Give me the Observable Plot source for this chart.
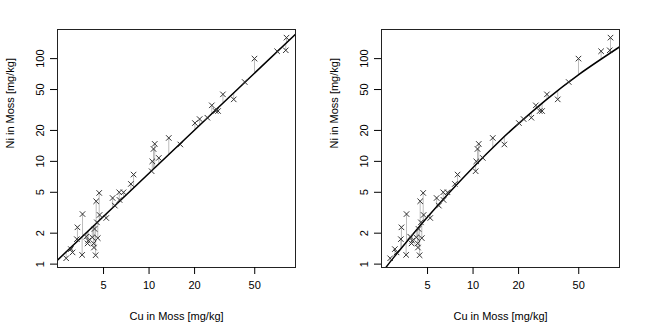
<!DOCTYPE html>
<html>
<head>
<meta charset="utf-8">
<script src="https://cdn.jsdelivr.net/npm/d3@7"></script>
<script src="https://cdn.jsdelivr.net/npm/@observablehq/plot@0.6"></script>
<style>
  html, body { margin: 0; padding: 0; background: white; }
  #wrap { display: flex; width: 648px; height: 324px; }
</style>
</head>
<body>
<div id="wrap"></div>
<script>
const cu = [2.83, 3.04, 3.12, 3.36, 3.33, 3.63, 3.61, 3.84, 3.92, 3.96, 4.21, 4.30, 4.32, 4.43, 4.47, 4.36, 4.52, 4.58, 4.68, 4.71,
            5.21, 5.74, 5.94, 6.35, 6.38, 6.78, 7.58, 7.90, 10.4, 10.5, 10.7, 10.9, 11.6, 13.5, 16.1, 20.1, 21.6, 24.3, 26.0, 27.6, 28.6,
            30.8, 36.3, 42.9, 49.8, 70.3, 80.2, 81.1];
const ni = [1.14, 1.40, 1.30, 2.28, 1.75, 3.07, 1.23, 1.85, 1.59, 1.69, 1.82, 1.59, 1.45, 1.22, 4.09, 2.20, 2.55, 1.79, 4.93, 3.01,
            2.81, 4.40, 3.71, 5.00, 4.21, 5.00, 6.03, 7.44, 8.02, 10.0, 13.2, 14.8, 10.8, 16.9, 14.6, 23.6, 25.8, 26.6, 35.1, 30.9, 30.9,
            44.9, 40.1, 59.2, 100, 118, 120.5, 160];

// Left panel: straight fitted line (log-log), read at the panel edges
const lineCu = [2.48, 93];
const lineNi = [1.094, 172.7];

// Right panel: fitted curve
const curveCu = [2.65, 3, 4, 5, 7, 10, 15, 20, 30, 50, 93];
const curveNi = [0.927, 1.17, 1.95, 2.87, 5.0, 8.73, 15.8, 23.3, 39.0, 70.0, 130];

const xTicks = [5, 10, 20, 50];
const yTicks = [1, 2, 5, 10, 20, 50, 100];
const xLabel = "Cu in Moss [mg/kg]";
const yLabel = "Ni in Moss [mg/kg]";

function fitAt(xs, ys, x) {
  const lx = Math.log(x);
  let i = 0;
  while (i < xs.length - 2 && x > xs[i + 1]) i++;
  const x0 = Math.log(xs[i]), x1 = Math.log(xs[i + 1]);
  const y0 = Math.log(ys[i]), y1 = Math.log(ys[i + 1]);
  const t = (lx - x0) / (x1 - x0);
  return Math.exp(y0 + t * (y1 - y0));
}

function panel(fx, fy) {
  const rows = cu.map((c, i) => ({cu: c, ni: ni[i], fit: fitAt(fx, fy, c)}));
  const fitRows = fx.map((c, i) => ({cu: c, ni: fy[i]}));
  return Plot.plot({
    width: 324, height: 324,
    marginLeft: 57, marginRight: 29, marginTop: 29, marginBottom: 57,
    style: {fontFamily: "'Liberation Sans', Arial, Helvetica, sans-serif", fontSize: "11px", background: "white", color: "black", overflow: "visible"},
    x: {type: "log", domain: [2.48, 93]},
    y: {type: "log", domain: [0.927, 192]},
    marks: [
      Plot.ruleX(rows, {x: "cu", y1: "ni", y2: "fit", stroke: "#bdbdbd", strokeWidth: 1}),
      Plot.line(fitRows, {x: "cu", y: "ni", stroke: "black", strokeWidth: 1.5, clip: true, curve: "natural"}),
      Plot.dot(rows, {x: "cu", y: "ni", symbol: "times", r: 2.6, stroke: "#333", strokeWidth: 1}),
      Plot.frame({stroke: "#222"}),
      Plot.axisX({ticks: xTicks, tickSize: 7, tickPadding: 7, label: null, tickFormat: d => String(d)}),
      Plot.axisY({ticks: yTicks, tickSize: 7, tickRotate: -90, tickPadding: 7, label: null, tickFormat: d => String(d)}),
      Plot.text([xLabel], {text: d => d, frameAnchor: "bottom", dy: 52, fontSize: 11}),
      Plot.text([yLabel], {text: d => d, frameAnchor: "left", dx: -47, rotate: -90, fontSize: 11})
    ]
  });
}

const wrap = document.getElementById("wrap");
wrap.append(panel(lineCu, lineNi));
wrap.append(panel(curveCu, curveNi));
</script>
</body>
</html>
